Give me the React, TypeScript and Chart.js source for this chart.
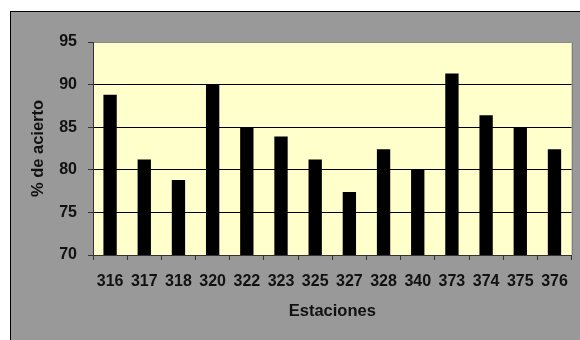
import React, { useEffect, useRef } from "react";
import { Chart, registerables } from "chart.js";

Chart.register(...registerables);

// Station codes along the x axis
const stations = ["316", "317", "318", "320", "322", "323", "325", "327", "328", "340", "373", "374", "375", "376"];
// Hit rate (%) for each station
const acierto = [88.8, 81.2, 78.8, 90.0, 85.0, 83.9, 81.2, 77.4, 82.4, 80.0, 91.3, 86.4, 85.0, 82.4];
// Y axis range and step
const yMin = 70;
const yMax = 95;
const yStep = 5;

const FONT = "'Liberation Sans', Arial, sans-serif";

const plotArea = {
  id: "plotArea",
  beforeDraw(chart: any) {
    const { ctx, chartArea: a } = chart;
    ctx.save();
    ctx.fillStyle = "#ffffcc";
    ctx.fillRect(a.left, a.top, a.right - a.left, a.bottom - a.top);
    ctx.restore();
  },
  afterDraw(chart: any) {
    const { ctx, chartArea: a } = chart;
    ctx.save();
    ctx.strokeStyle = "#808080";
    ctx.lineWidth = 1;
    ctx.beginPath();
    ctx.moveTo(Math.round(a.right) + 0.5, a.top);
    ctx.lineTo(Math.round(a.right) + 0.5, a.bottom);
    ctx.stroke();
    ctx.restore();
  },
};

export default function App() {
  const ref = useRef<HTMLCanvasElement | null>(null);

  useEffect(() => {
    if (!ref.current) return;
    const chart = new Chart(ref.current, {
      type: "bar",
      data: {
        labels: stations,
        datasets: [
          {
            data: acierto,
            backgroundColor: "#000000",
            borderWidth: 0,
            categoryPercentage: 1,
            barPercentage: 0.39,
          },
        ],
      },
      options: {
        responsive: false,
        animation: false,
        layout: { padding: { left: 0, top: 30, right: 5, bottom: 0 } },
        plugins: {
          legend: { display: false },
          tooltip: { enabled: false },
        },
        scales: {
          x: {
            afterFit(scale: any) {
              scale.height = 85;
            },
            grid: {
              offset: true,
              drawOnChartArea: false,
              drawTicks: true,
              tickLength: 5,
              tickColor: "#333333",
            },
            border: { color: "#333333", width: 1 },
            ticks: {
              color: "#111111",
              padding: 12,
              maxRotation: 0,
              autoSkip: false,
              font: { family: FONT, size: 16, weight: "bold" },
            },
            title: {
              display: true,
              text: "Estaciones",
              color: "#111111",
              padding: { top: 0, bottom: 19 },
              font: { family: FONT, size: 16.5, weight: "bold" },
            },
          },
          y: {
            min: yMin,
            max: yMax,
            afterFit(scale: any) {
              scale.width = 82;
            },
            grid: {
              color: (c: any) => (c.tick && c.tick.value === yMax ? "#8a8a8a" : "#000000"),
              tickColor: "#333333",
              tickLength: 5,
            },
            border: { color: "#333333", width: 1 },
            ticks: {
              stepSize: yStep,
              color: "#111111",
              padding: 11,
              font: { family: FONT, size: 16, weight: "bold" },
            },
            title: {
              display: true,
              text: "% de acierto",
              color: "#111111",
              padding: { top: 18, bottom: 0 },
              font: { family: FONT, size: 16.5, weight: "bold" },
            },
          },
        },
      },
      plugins: [plotArea],
    });
    return () => chart.destroy();
  }, []);

  return (
    <div
      style={{
        position: "absolute",
        left: 10,
        top: 11,
        width: 569,
        height: 328,
        background: "#999999",
        borderTop: "1px solid #000",
        borderLeft: "1px solid #000",
      }}
    >
      <canvas ref={ref} width={569} height={328} style={{ display: "block" }} />
    </div>
  );
}
